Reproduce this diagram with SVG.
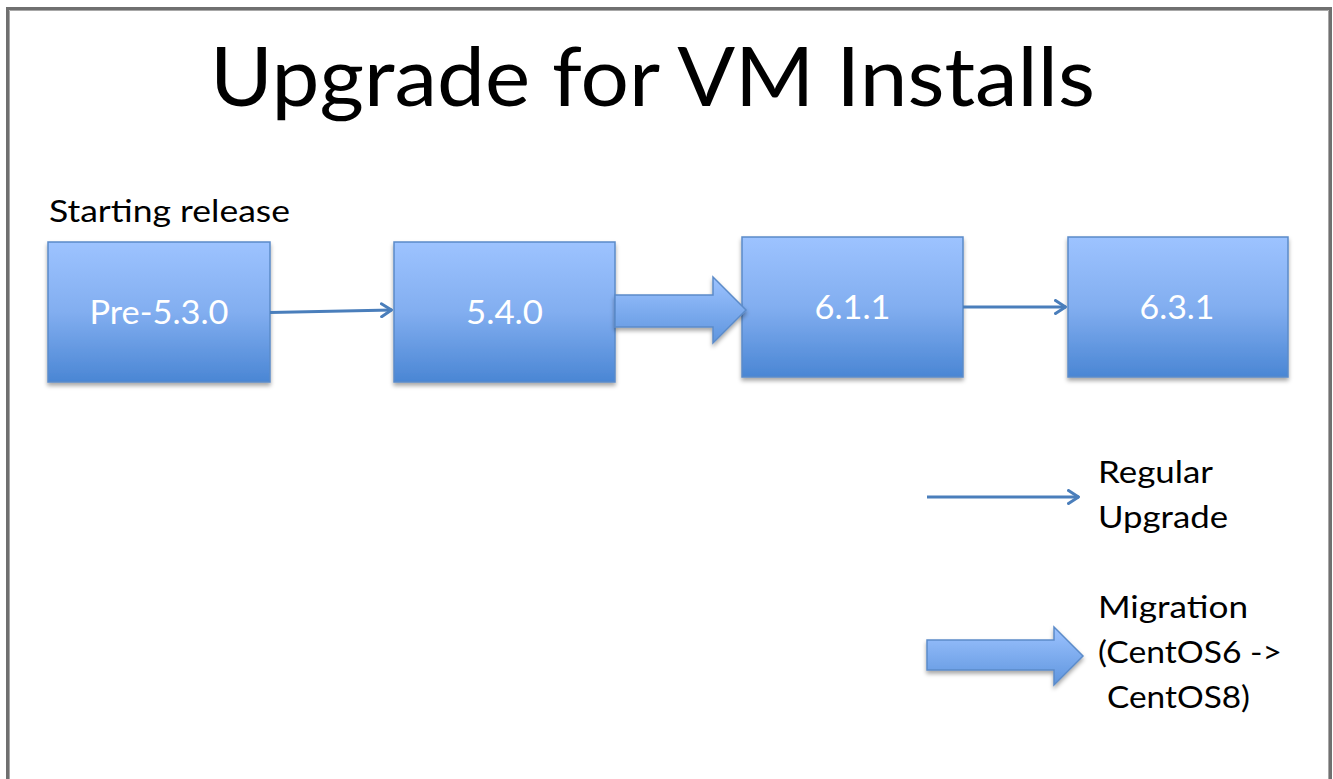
<svg xmlns="http://www.w3.org/2000/svg" width="1333" height="779" viewBox="0 0 1333 779">
  <defs>
    <linearGradient id="boxFill" x1="0" y1="0" x2="0" y2="1">
      <stop offset="0" stop-color="#9DC3FF"/>
      <stop offset="0.5" stop-color="#82AEF0"/>
      <stop offset="1" stop-color="#4A86D4"/>
    </linearGradient>
    <linearGradient id="fatFill" x1="0" y1="0" x2="0" y2="1">
      <stop offset="0" stop-color="#9DC3FF"/>
      <stop offset="1" stop-color="#5E95DE"/>
    </linearGradient>
    <filter id="shadow" x="-10%" y="-10%" width="120%" height="130%">
      <feDropShadow dx="0" dy="3" stdDeviation="2" flood-color="#000" flood-opacity="0.35"/>
    </filter>
    <marker id="open" viewBox="0 0 13 16" refX="12" refY="8" markerWidth="13" markerHeight="16" markerUnits="userSpaceOnUse" orient="auto">
      <path d="M1.5,1.5 L11.5,8 L1.5,14.5" fill="none" stroke="#4A7EBB" stroke-width="3" stroke-linecap="round" stroke-linejoin="round"/>
    </marker>
    <style>
      .box { fill: url(#boxFill); stroke: #5B8BC9; stroke-width: 1.5; filter: url(#shadow); }
      .lbl { font-family: Lato, "Liberation Sans", sans-serif; font-size: 33px; fill: #FFFFFF; text-anchor: middle; }
      .txt { font-family: Lato, "Liberation Sans", sans-serif; font-size: 31px; fill: #000000; }
      .thin { fill: none; stroke: #4A7EBB; stroke-width: 3.2; marker-end: url(#open); }
      .fat { fill: url(#fatFill); stroke: #5B8BC9; stroke-width: 1.5; filter: url(#shadow); }
    </style>
  </defs>

  <!-- page -->
  <rect x="0" y="0" width="1333" height="779" fill="#FFFFFF"/>
  <path d="M7.5,779 V8.5 H1330.5 V779" fill="none" stroke="#707070" stroke-width="3"/>
  <path d="M9.5,779 V10.5 H1328.5 V779" fill="none" stroke="#A8A8A8" stroke-width="1"/>

  <!-- title -->
  <text id="title" x="210" y="106" font-family="Lato, 'Liberation Sans', sans-serif" font-size="81" fill="#000" textLength="885" lengthAdjust="spacingAndGlyphs">Upgrade for VM Installs</text>

  <text id="start-label" class="txt" x="49" y="222" textLength="241" lengthAdjust="spacingAndGlyphs">Starting release</text>

  <!-- release nodes -->
  <g id="node-pre530">
    <rect class="box" x="48" y="242" width="222" height="140"/>
    <text class="lbl" x="159" y="324" textLength="139" lengthAdjust="spacingAndGlyphs">Pre-5.3.0</text>
  </g>
  <g id="node-540">
    <rect class="box" x="394" y="242" width="221" height="140"/>
    <text class="lbl" x="504.5" y="324" textLength="77" lengthAdjust="spacingAndGlyphs">5.4.0</text>
  </g>
  <g id="node-611">
    <rect class="box" x="742" y="237" width="221" height="140"/>
    <text class="lbl" x="852.5" y="319" textLength="76" lengthAdjust="spacingAndGlyphs">6.1.1</text>
  </g>
  <g id="node-631">
    <rect class="box" x="1068" y="237" width="220" height="140"/>
    <text class="lbl" x="1177" y="319" textLength="75" lengthAdjust="spacingAndGlyphs">6.3.1</text>
  </g>

  <!-- connectors -->
  <g id="connectors">
    <path class="thin" d="M270,312.5 L392,310"/>
    <path class="fat" d="M615,295 H713 V277 L746,310 L713,343 V327 H615 Z"/>
    <path class="thin" d="M963,307 L1066,307"/>
  </g>

  <!-- legend -->
  <g id="legend-regular">
    <path class="thin" d="M927,497 L1079,497"/>
    <text class="txt" x="1098" y="483" textLength="115" lengthAdjust="spacingAndGlyphs">Regular</text>
    <text class="txt" x="1098" y="528" textLength="130" lengthAdjust="spacingAndGlyphs">Upgrade</text>
  </g>
  <g id="legend-migration">
    <path class="fat" d="M927,640 H1054 V627 L1083,656 L1054,685 V670 H927 Z"/>
    <text class="txt" x="1098" y="618" textLength="150" lengthAdjust="spacingAndGlyphs">Migration</text>
    <text class="txt" x="1098" y="663" textLength="184" lengthAdjust="spacingAndGlyphs">(CentOS6 -&gt;</text>
    <text class="txt" x="1107" y="708" textLength="143" lengthAdjust="spacingAndGlyphs">CentOS8)</text>
  </g>
</svg>
